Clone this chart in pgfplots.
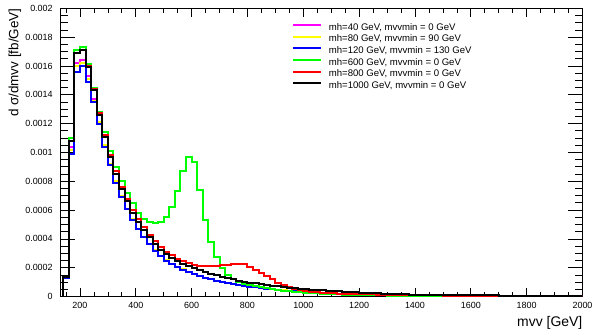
\documentclass[border=0pt]{standalone}
\usepackage{pgfplots}
\pgfplotsset{compat=1.18}
\usepackage{pgfplotstable}
\usepackage{fontspec}
\setmainfont{Liberation Sans}
\definecolor{rmag}{rgb}{1,0,1}
\definecolor{ryel}{rgb}{1,1,0}
\definecolor{rblu}{rgb}{0,0,1}
\definecolor{rgre}{rgb}{0,1,0}
\definecolor{rred}{rgb}{1,0,0}

\pgfplotstableread{
x     m         y         b         g         r         k
140   0         0         0         0         0         0
140   0.00013   0.00013   0.00013   0.000135  0.000135  0.000135
160   0.00104   0.00102   0.00099   0.00110   0.00108   0.00108
180   0.00162   0.00160   0.00156   0.00171   0.00169   0.00169
200   0.00164   0.00162   0.00160   0.00173   0.00171   0.00171
220   0.00153   0.00151   0.00149   0.00161   0.00160   0.00159
240   0.00137   0.00136   0.00135   0.00145   0.00144   0.00143
260   0.00121   0.00121   0.00120   0.00128   0.00127   0.00126
280   0.00105   0.00105   0.00104   0.00114   0.00112   0.00111
300   0.00092   0.00092   0.00091   0.00101   0.00098   0.00097
320   0.00080   0.00080   0.00079   0.00090   0.00087   0.00085
340   0.00070   0.00070   0.00069   0.00080   0.00076   0.000745
360   0.00061   0.00061   0.000605  0.00072   0.00068   0.00066
380   0.000535  0.000535  0.00053   0.00065   0.00060   0.00058
400   0.00047   0.00047   0.000467  0.00058   0.00054   0.00052
420   0.000415  0.000415  0.000411  0.00054   0.00048   0.00046
440   0.000365  0.000365  0.000362  0.00052   0.00043   0.00041
460   0.00032   0.00032   0.000318  0.00051   0.000385  0.000365
480   0.00028   0.00028   0.000278  0.00052   0.000345  0.000323
500   0.00025   0.00025   0.000248  0.000555  0.000312  0.000292
520   0.000227  0.000227  0.000225  0.00062   0.000285  0.000266
540   0.000207  0.000207  0.000205  0.00073   0.000262  0.000245
560   0.000189  0.000189  0.000187  0.00087   0.000245  0.000226
580   0.000172  0.000172  0.00017   0.00097   0.000232  0.00021
600   0.000157  0.000157  0.000155  0.00093   0.000222  0.000196
620   0.000143  0.000143  0.000141  0.00074   0.000215  0.000182
640   0.00013   0.00013   0.000129  0.00053   0.000212  0.00017
660   0.00012   0.00012   0.000118  0.00038   0.000212  0.000158
680   0.00011   0.00011   0.000109  0.000272  0.000213  0.000148
700   0.000101  0.000101  0.0001    0.000196  0.000217  0.000138
720   0.000094  0.000094  0.000093  0.00015   0.000222  0.000128
740   0.000087  0.000087  0.000086  0.00012   0.000226  0.00012
760   0.000081  0.000081  0.00008   0.000103  0.000228  0.000111
780   0.000075  0.000075  0.000074  0.00009   0.000224  0.000104
800   0.000069  0.000069  0.000068  0.00008   0.000208  0.000097
820   0.000064  0.000064  0.000063  0.000071  0.000186  0.000091
840   0.000059  0.000059  0.000058  0.000063  0.000163  0.000086
860   0.000054  0.000054  0.000053  0.000056  0.00014   0.00008
880   0.00005   0.00005   0.000049  0.00005   0.000118  0.000075
900   0.000046  0.000046  0.000045  0.000045  0.000097  0.00007
920   0.000042  0.000042  0.000041  0.00004   0.000079  0.000066
940   0.000039  0.000039  0.000038  0.000036  0.000063  0.000062
960   0.000036  0.000036  0.000035  0.000032  0.000051  0.000058
980   0.000033  0.000033  0.000032  0.000029  0.000043  0.000054
1000  0.000031  0.000031  0.00003   0.000026  0.000036  0.000051
1020  0.000029  0.000029  0.000028  0.000023  0.000032  0.000048
1040  0.000027  0.000027  0.000026  0.000021  0.000029  0.000045
1060  0.000025  0.000025  0.000024  0.000019  0.000026  0.000042
1080  0.000023  0.000023  0.000022  0.000017  0.000024  0.00004
1100  0.000021  0.000021  0.00002   0.000015  0.000022  0.000037
1120  0.00002   0.00002   0.000019  0.000014  0.00002   0.000035
1140  0.000018  0.000018  0.000017  0.000012  0.000019  0.000033
1160  0.000017  0.000017  0.000016  0.000011  0.000018  0.000031
1180  0.000016  0.000016  0.000015  0.00001   0.000017  0.000029
1200  0.000015  0.000015  0.000014  0.000009  0.000016  0.000027
1220  0.000014  0.000014  0.000013  0.0000085 0.000015  0.000025
1240  0.000013  0.000013  0.000012  0.000008  0.000014  0.000023
1260  0.000012  0.000012  0.000011  0.0000075 0.000013  0.000021
1280  0.000011  0.000011  0.00001   0.000007  0.000012  0.00002
1300  0.00001   0.00001   0.0000095 0.0000065 0.000011  0.000018
1320  0.0000095 0.0000095 0.000009  0.000006  0.0000105 0.000017
1340  0.000009  0.000009  0.0000085 0.0000055 0.00001   0.000015
1360  0.0000085 0.0000085 0.000008  0.000005  0.0000095 0.000014
1380  0.000008  0.000008  0.0000075 0.0000047 0.000009  0.000013
1400  0.0000075 0.0000075 0.000007  0.0000045 0.0000085 0.000012
1450  0.0000065 0.0000065 0.000006  0.000004  0.0000075 0.00001
1500  0.0000055 0.0000055 0.000005  0.0000035 0.0000065 0.0000085
1600  0.0000045 0.0000045 0.000004  0.000003  0.0000055 0.000007
1700  0.0000035 0.0000035 0.000003  0.0000025 0.0000045 0.0000055
1800  0.0000025 0.0000025 0.000002  0.000002  0.0000035 0.000004
1900  0.000002  0.000002  0.0000015 0.0000015 0.0000025 0.000003
2000  0.0000015 0.0000015 0.000001  0.000001  0.000002  0.0000025
}\histdata

\begin{document}
\begin{tikzpicture}
\useasboundingbox (-60.4bp,-33.5bp) rectangle (533.6bp,296.5bp);
\begin{axis}[
  at={(0bp,0bp)}, anchor=south west,
  scale only axis, width=522.1bp, height=288.2bp,
  xmin=130, xmax=2000, ymin=0, ymax=0.002,
  xtick={200,400,...,2000},
  minor xtick={150,200,...,2000},
  ytick={0,0.0002,0.0004,0.0006,0.0008,0.001,0.0012,0.0014,0.0016,0.0018,0.002},
  minor y tick num=3,
  scaled y ticks=false,
  scaled x ticks=false,
  yticklabel style={/pgf/number format/fixed, /pgf/number format/precision=4, inner sep=0pt, xshift=-7.5bp},
  xticklabel style={/pgf/number format/set thousands separator={}, inner sep=0pt, yshift=-6bp},
  /pgf/number format/assume math mode=true,
  tick label style={font=\fontsize{9}{10}\selectfont},
  tick align=inside,
  xtick style={/pgfplots/major tick length=8.5bp, /pgfplots/minor tick length=4.3bp},
  ytick style={/pgfplots/major tick length=15bp, /pgfplots/minor tick length=7.5bp},
  every tick/.append style={black, line width=0.7bp},
  axis line style={line width=0.8bp},
  legend style={at={(rel axis cs:0.443,0.9525)}, anchor=north west, draw=none, fill=none,
    font=\fontsize{9.6}{11}\selectfont, inner sep=0pt, row sep=0pt,
    nodes={inner sep=0pt, text height=8.1bp, text depth=3.5bp},
    /tikz/every odd column/.append style={column sep=7bp}},
  legend cell align=left,
  legend image code/.code={\draw[#1, line width=2bp] (0bp,2.8bp) -- (28bp,2.8bp);},
  every axis plot/.append style={const plot mark left, no markers, line width=2bp, line join=miter},
]
\addplot[rmag] table[x=x,y=m] {\histdata};
\addlegendentry{mh=40 GeV, mvvmin = 0 GeV}
\addplot[ryel] table[x=x,y=y] {\histdata};
\addlegendentry{mh=80 GeV, mvvmin = 90 GeV}
\addplot[rblu] table[x=x,y=b] {\histdata};
\addlegendentry{mh=120 GeV, mvvmin = 130 GeV}
\addplot[rgre] table[x=x,y=g] {\histdata};
\addlegendentry{mh=600 GeV, mvvmin = 0 GeV}
\addplot[rred] table[x=x,y=r] {\histdata};
\addlegendentry{mh=800 GeV, mvvmin = 0 GeV}
\addplot[black] table[x=x,y=k] {\histdata};
\addlegendentry{mh=1000 GeV, mvvmin = 0 GeV}
\end{axis}
\node[rotate=90, anchor=base east, inner sep=0pt, font=\fontsize{13.5}{14}\selectfont] at (-42bp,288.2bp) {d σ/dmvv [fb/GeV]};
\node[anchor=base east, inner sep=0pt, font=\fontsize{14}{15}\selectfont] at (522.1bp,-30.2bp) {mvv [GeV]};
\end{tikzpicture}
\end{document}
